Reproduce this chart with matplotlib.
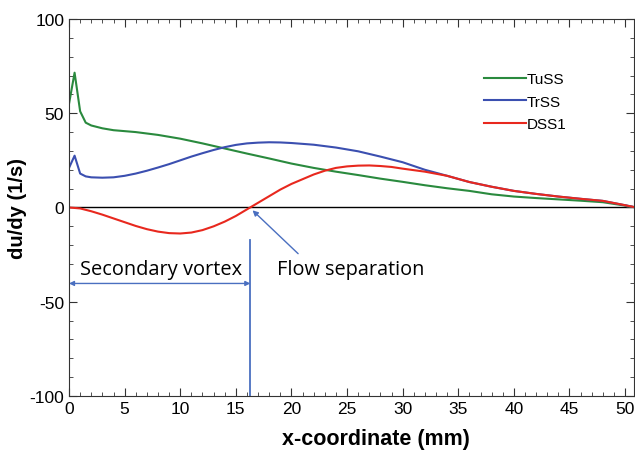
import numpy as np
import matplotlib
matplotlib.use("Agg")
import matplotlib.pyplot as plt
from matplotlib.ticker import MultipleLocator

# ---- data ----
x_tuss = [0, 0.5, 1.0, 1.5, 2, 3, 4, 6, 8, 10, 12, 14, 16, 18, 20, 22, 24, 26,
          28, 30, 32, 34, 36, 38, 40, 42, 44, 46, 48, 50, 51]
y_tuss = [55, 71.5, 51, 45, 43.5, 42, 41, 40, 38.5, 36.5, 34, 31.3, 28.6, 26,
          23.3, 21, 19, 17.2, 15.3, 13.6, 11.8, 10.2, 8.8, 7, 5.8, 5, 4.3, 3.6,
          2.8, 1, 0]

x_trss = [0, 0.5, 1, 1.5, 2, 3, 4, 5, 6, 7, 8, 9, 10, 11, 12, 13, 14, 15, 16,
          17, 18, 19, 20, 22, 24, 26, 28, 30, 32, 34, 36, 38, 40, 42, 44, 46,
          48, 50, 51]
y_trss = [21, 27.5, 18, 16.5, 16, 15.8, 16, 16.8, 18, 19.5, 21.2, 23, 25, 27,
          28.8, 30.5, 32, 33.2, 34, 34.4, 34.6, 34.5, 34.2, 33.3, 31.8, 29.8,
          27, 24, 20, 16.8, 13.5, 11, 8.8, 7.2, 5.8, 4.6, 3.5, 1.2, 0]

x_dss1 = [0, 1, 2, 3, 4, 5, 6, 7, 8, 9, 10, 11, 12, 13, 14, 15, 16, 17, 18, 19,
          20, 21, 22, 23, 24, 25, 26, 27, 28, 29, 30, 32, 34, 36, 38, 40, 42,
          44, 46, 48, 50, 51]
y_dss1 = [0, -0.5, -2, -3.8, -5.8, -7.8, -9.8, -11.5, -12.8, -13.6, -13.8,
          -13.3, -12, -10, -7.5, -4.5, -1, 2.5, 6, 9.5, 12.5, 15, 17.5, 19.5,
          21, 21.8, 22.2, 22.3, 22, 21.5, 20.6, 19, 16.8, 13.5, 11, 8.8, 7.2,
          5.8, 4.6, 3.5, 1.2, 0]

labels = ["TuSS", "TrSS", "DSS1"]
colors = ["#2a8a3e", "#3b4fb0", "#e8281e"]
x_sep = 16.3  # flow separation point (mm)
ANN = "#4a6fc0"

plt.rcParams.update({"font.family": ["Liberation Sans", "DejaVu Sans"],
                     "axes.unicode_minus": False})
fig = plt.figure(figsize=(6.35, 4.52), dpi=100)
ax = fig.add_axes([0.1087, 0.1217, 0.8897, 0.8341])

for xs, ys, lab, c in zip([x_tuss, x_trss, x_dss1], [y_tuss, y_trss, y_dss1],
                          labels, colors):
    ax.plot(xs, ys, color=c, lw=1.5, label=lab)
ax.axhline(0, color="black", lw=1.0, zorder=1)

# annotations
ax.plot([x_sep, x_sep], [-17.5, -100], color=ANN, lw=1.3, clip_on=False)
ax.annotate("", xy=(0, -40.3), xytext=(x_sep, -40.3),
            arrowprops=dict(arrowstyle="<|-|>", color=ANN, lw=1.0,
                            mutation_scale=7, shrinkA=0, shrinkB=0))
ax.text(8.3, -32.8, "Secondary vortex", ha="center", va="center",
        fontsize=14.4, family="Open Sans")
ax.annotate("", xy=(16.5, -1.5), xytext=(20.6, -24.5),
            arrowprops=dict(arrowstyle="-|>", color=ANN, lw=1.0,
                            mutation_scale=8, shrinkA=0, shrinkB=0))
ax.text(18.7, -32.8, "Flow separation", ha="left", va="center",
        fontsize=14.3, family="Open Sans")

ax.set_xlim(0, 50.8)
ax.set_ylim(-100, 100)
ax.xaxis.set_major_locator(MultipleLocator(5))
ax.xaxis.set_minor_locator(MultipleLocator(1))
ax.yaxis.set_major_locator(MultipleLocator(50))
ax.yaxis.set_minor_locator(MultipleLocator(10))
ax.tick_params(which="both", direction="in", top=True, right=True,
               labelsize=12.5, color="#333333")
ax.tick_params(which="major", length=6)
ax.tick_params(which="minor", length=3)
for s in ax.spines.values():
    s.set_color("#333333")

ax.set_xlabel("x-coordinate (mm)", fontsize=15.5, fontweight="bold",
              va="center")
ax.xaxis.set_label_coords(0.543, -0.112)
ax.set_ylabel("du/dy (1/s)", fontsize=14.5, fontweight="bold", va="center")
ax.yaxis.set_label_coords(-0.091, 0.5)

ax.legend(loc="upper left", bbox_to_anchor=(0.71, 0.895), frameon=False,
          fontsize=11, handlelength=2.75, handletextpad=0.05,
          labelspacing=0.55)

fig.savefig("out.png", dpi=100)
